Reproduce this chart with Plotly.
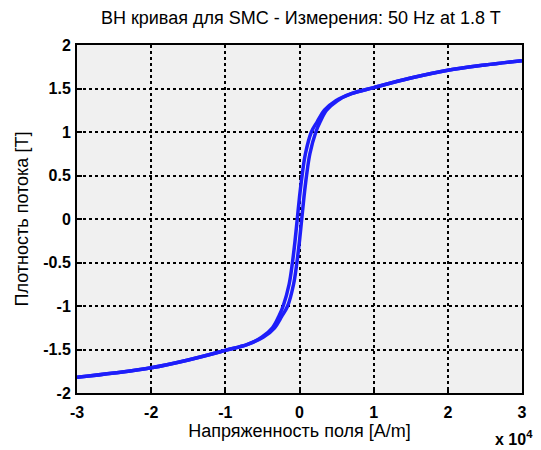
import plotly.graph_objects as go

# Descending branch (H in A/m, B in T)
H_desc = [30000, 25000, 20000, 15000, 10000, 7000, 4900, 3350, 2400, 1600,
          800, 350, 0, -300, -600, -950, -1400, -2200, -2800, -3650, -5100,
          -7000, -10000, -15000, -20000, -25000, -30000]
B_desc = [1.82, 1.77, 1.71, 1.62, 1.51, 1.44, 1.36, 1.25, 1.12, 1.0,
          0.75, 0.5, 0.25, 0.0, -0.25, -0.5, -0.75, -1.0, -1.12, -1.25, -1.36,
          -1.44, -1.51, -1.62, -1.71, -1.77, -1.82]
# Ascending branch
H_asc = [-30000, -25000, -20000, -15000, -10000, -7000, -4900, -3350, -2400, -1600,
         -800, -350, 0, 300, 600, 950, 1400, 2200, 2800, 3650, 5100,
         7000, 10000, 15000, 20000, 25000, 30000]
B_asc = [-1.82, -1.77, -1.71, -1.62, -1.51, -1.44, -1.36, -1.25, -1.12, -1.0,
         -0.75, -0.5, -0.25, 0.0, 0.25, 0.5, 0.75, 1.0, 1.12, 1.25, 1.36,
         1.44, 1.51, 1.62, 1.71, 1.77, 1.82]

x_tickvals = [-30000, -20000, -10000, 0, 10000, 20000, 30000]
x_ticktext = ["-3", "-2", "-1", "0", "1", "2", "3"]
y_tickvals = [-2, -1.5, -1, -0.5, 0, 0.5, 1, 1.5, 2]
y_ticktext = ["-2", "-1.5", "-1", "-0.5", "0", "0.5", "1", "1.5", "2"]

title_text = "BH кривая для SMC - Измерения: 50 Hz at 1.8 T"
x_title = "Напряженность поля [A/m]"
y_title = "Плотность потока [T]"

line_color = "rgb(30,30,250)"
font_family = "Liberation Sans, Arial, sans-serif"

fig = go.Figure()
for hx, by in ((H_desc, B_desc), (H_asc, B_asc)):
    fig.add_trace(go.Scatter(x=hx, y=by, mode="lines",
                             line=dict(color=line_color, width=3.5, shape="spline", smoothing=1.0),
                             showlegend=False))

axis_common = dict(
    showline=True, linecolor="black", linewidth=2, mirror=True,
    ticks="inside", ticklen=5, tickcolor="black", tickwidth=1.5,
    showgrid=True, gridcolor="black", gridwidth=1.5, griddash="dot",
    zeroline=False, automargin=False,
    tickfont=dict(family=font_family, size=16, color="black", weight="bold"),
)

fig.update_xaxes(range=[-30000, 30000], tickvals=x_tickvals, ticktext=x_ticktext,
                 ticklabelstandoff=4,
                 title=dict(text=x_title, font=dict(family=font_family, size=18, color="black"),
                            standoff=2),
                 **axis_common)
fig.update_yaxes(range=[-2, 2], tickvals=y_tickvals, ticktext=y_ticktext,
                 ticklabelstandoff=1,
                 title=dict(text=y_title, font=dict(family=font_family, size=18, color="black"),
                            standoff=10),
                 **axis_common)

# page body has an 8px margin, so the figure is sized to fill the rest of the window
fig.update_layout(
    width=533, height=442,
    margin=dict(l=69, r=19, t=37, b=57, autoexpand=False),
    paper_bgcolor="white", plot_bgcolor="#f0f0f0",
    title=dict(text=title_text, x=0.503, xanchor="center", xref="paper",
               y=0.977, yref="container", yanchor="middle",
               font=dict(family=font_family, size=18, color="black")),
    annotations=[dict(text="x 10<sup>4</sup>", xref="paper", yref="paper",
                      x=1.03, y=-0.13, xanchor="right", yanchor="middle", showarrow=False,
                      font=dict(family=font_family, size=16, color="black", weight="bold"))],
)

fig.write_html("out.html")
